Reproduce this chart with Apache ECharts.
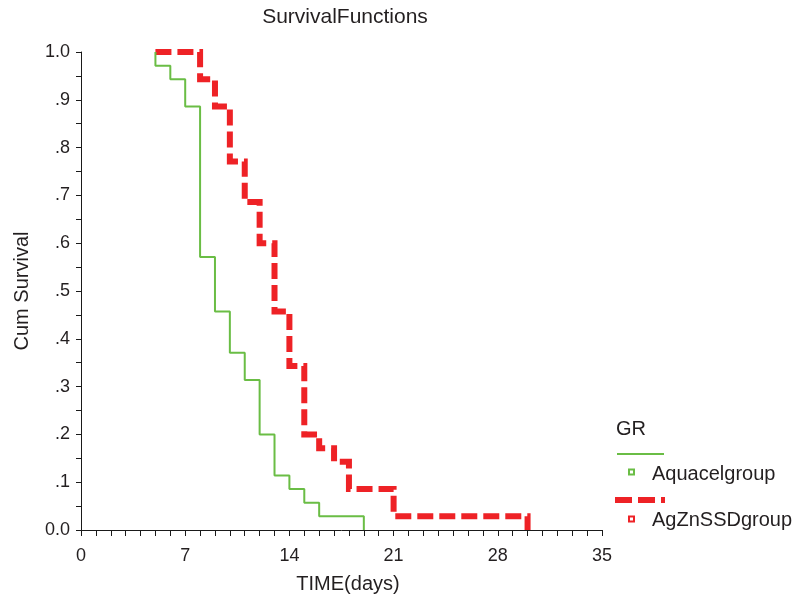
<!DOCTYPE html>
<html>
<head>
<meta charset="utf-8">
<script src="https://cdn.jsdelivr.net/npm/echarts@6/dist/echarts.min.js"></script>
<style>
html,body{margin:0;padding:0;background:#fff;}
#chart{width:803px;height:602px;}
</style>
</head>
<body>
<div id="chart"></div>
<script>
// ---- data ----
var startTime = 5;
var aquacelTimes = [5, 6, 7, 8, 9, 10, 11, 12, 13, 14, 15, 16, 19];
var aquacelSurv  = [0.971, 0.943, 0.886, 0.571, 0.457, 0.371, 0.314, 0.200, 0.114, 0.086, 0.057, 0.029, 0.0];
var agznTimes = [8, 9, 10, 11, 12, 13, 14, 15, 16, 17, 18, 21, 30];
var agznSurv  = [0.943, 0.886, 0.771, 0.686, 0.600, 0.457, 0.343, 0.200, 0.171, 0.143, 0.086, 0.029, 0.0];
var seriesNames = ['Aquacelgroup', 'AgZnSSDgroup'];
var xTicks = [0, 7, 14, 21, 28, 35];
var yTickLabels = ['0.0', '.1', '.2', '.3', '.4', '.5', '.6', '.7', '.8', '.9', '1.0'];

var GREEN = '#6abd45';
var RED = '#ee2226';
var TXT = '#231f20';
var FONT = '"Liberation Sans", Arial, Helvetica, sans-serif';

function buildSteps(times, surv) {
  var pts = [[startTime, 1.0]];
  for (var i = 0; i < times.length; i++) pts.push([times[i], surv[i]]);
  return pts;
}

var chart = echarts.init(document.getElementById('chart'), null, {renderer: 'canvas'});
var option = {
  backgroundColor: '#ffffff',
  animation: false,
  grid: {left: 81, right: 201, top: 52, bottom: 72, containLabel: false},
  xAxis: {
    type: 'value', min: xTicks[0], max: xTicks[xTicks.length - 1], interval: 7,
    name: 'TIME(days)', nameLocation: 'middle', nameGap: 44,
    nameTextStyle: {fontFamily: FONT, fontSize: 20, color: TXT, padding: [0, 0, 0, 13]},
    axisLine: {show: true, onZero: false, lineStyle: {color: '#1a1a1a', width: 1}},
    axisTick: {show: true, inside: false, length: 6, lineStyle: {color: '#1a1a1a'}},
    minorTick: {show: true, splitNumber: 7, length: 6, lineStyle: {color: '#1a1a1a'}},
    splitLine: {show: false},
    axisLabel: {fontFamily: FONT, fontSize: 18, color: TXT, margin: 17}
  },
  yAxis: {
    type: 'value', min: 0, max: 1, interval: 0.1,
    name: 'Cum Survival', nameLocation: 'middle', nameGap: 49, nameRotate: 90,
    nameTextStyle: {fontFamily: FONT, fontSize: 20, color: TXT},
    axisLine: {show: true, lineStyle: {color: '#1a1a1a', width: 1}},
    axisTick: {show: true, inside: false, length: 5, lineStyle: {color: '#1a1a1a'}},
    minorTick: {show: true, splitNumber: 2, length: 5, lineStyle: {color: '#1a1a1a'}},
    splitLine: {show: false},
    axisLabel: {
      fontFamily: FONT, fontSize: 18, color: TXT, margin: 11,
      formatter: function (v) { return yTickLabels[Math.round(v * 10)]; }
    }
  },
  series: [
    {
      name: seriesNames[0], type: 'line', step: 'end', symbol: 'none',
      data: buildSteps(aquacelTimes, aquacelSurv),
      lineStyle: {color: GREEN, width: 2}, z: 3
    },
    {
      name: seriesNames[1], type: 'line', step: 'end', symbol: 'none',
      data: buildSteps(agznTimes, agznSurv),
      lineStyle: {color: RED, width: 6, type: [16, 6], cap: 'butt', join: 'miter'}, z: 2
    }
  ],
  graphic: [
    {type: 'text', x: 345, y: 17, style: {text: 'SurvivalFunctions', fontFamily: FONT, fontSize: 21, fill: TXT, align: 'center', verticalAlign: 'middle'}},
    {type: 'text', left: 616, top: 419, style: {text: 'GR', fontFamily: FONT, fontSize: 20, fill: TXT}},
    {type: 'line', shape: {x1: 617, y1: 454, x2: 664, y2: 454}, style: {stroke: GREEN, lineWidth: 2}},
    {type: 'rect', shape: {x: 629, y: 469.5, width: 5, height: 5}, style: {fill: '#fff', stroke: GREEN, lineWidth: 2}},
    {type: 'text', left: 652, top: 464, style: {text: seriesNames[0], fontFamily: FONT, fontSize: 20, fill: TXT}},
    {type: 'line', shape: {x1: 615, y1: 500, x2: 665, y2: 500}, style: {stroke: RED, lineWidth: 6, lineDash: [17, 6], lineCap: 'butt'}},
    {type: 'rect', shape: {x: 629, y: 516.5, width: 5, height: 5}, style: {fill: '#fff', stroke: RED, lineWidth: 2}},
    {type: 'text', left: 652, top: 510, style: {text: seriesNames[1], fontFamily: FONT, fontSize: 20, fill: TXT}}
  ]
};
chart.setOption(option);
</script>
</body>
</html>
